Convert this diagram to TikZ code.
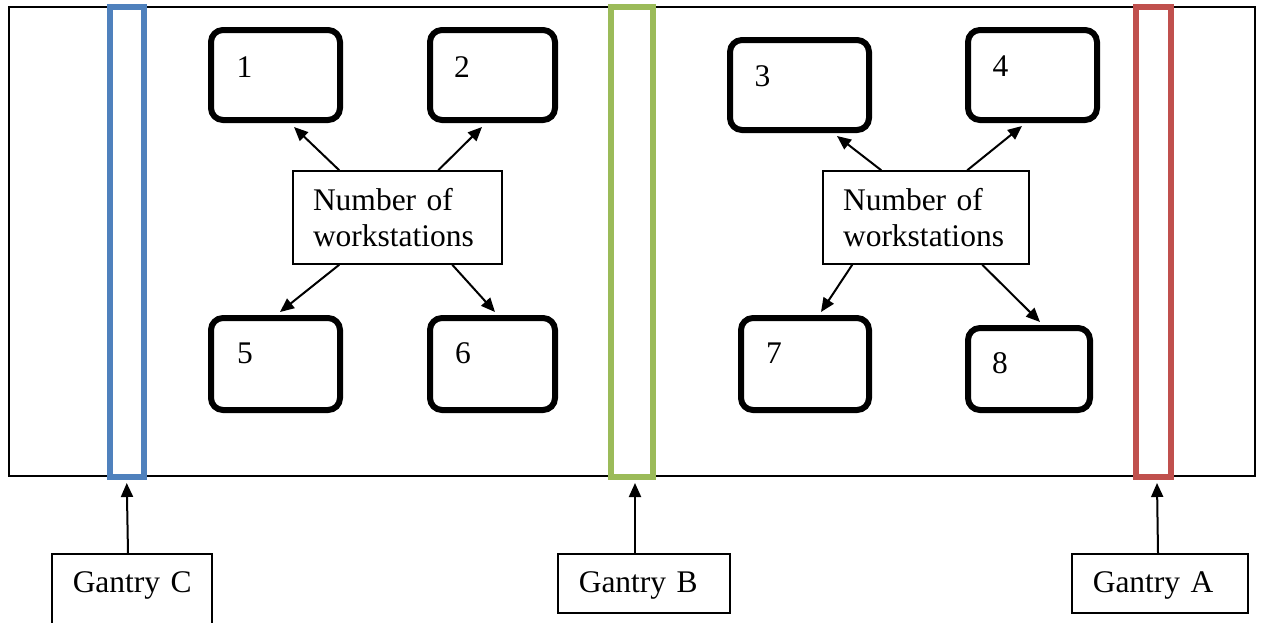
\documentclass[tikz,border=0pt]{standalone}
\usepackage{fontspec}
\setmainfont{Liberation Serif}
\usetikzlibrary{arrows.meta,calc}
\definecolor{gblue}{HTML}{4F81BD}
\definecolor{ggreen}{HTML}{9BBB59}
\definecolor{gred}{HTML}{C0504D}
\begin{document}
\begin{tikzpicture}[x=0.5pt,y=-0.5pt,
  every node/.style={font=\fontsize{15.75pt}{18pt}\selectfont},
  wsbox/.style={draw, line width=3pt, rounded corners=6pt, inner sep=0pt},
  numbox/.style={draw, line width=0.75pt, inner xsep=10pt, align=left, minimum height=46.5pt},
  gantry/.style={draw, line width=3pt, inner sep=0pt, minimum height=235pt},
  glabel/.style={draw, line width=0.75pt, anchor=north west, align=left, inner xsep=10.5pt, inner ysep=7.75pt, text height=11.75pt, text depth=2.25pt},
  digit/.style={anchor=base, inner sep=0pt},
  arr/.style={-{Triangle[length=7pt,width=6pt]}, line width=1pt}]
\useasboundingbox (0,0) rectangle (1264,622);
\clip (0,0) rectangle (1264,622);
% outer frame
\draw[line width=0.75pt] (9,7) rectangle (1255,476);
% gantries
\node[gantry, draw=gblue, minimum width=17.25pt] (gC) at (126.75,242) {};
\node[gantry, draw=ggreen, minimum width=21pt] (gB) at (632,242) {};
\node[gantry, draw=gred, minimum width=17.5pt] (gA) at (1153,242) {};
% workstation boxes
\node[wsbox, minimum width=64.5pt, minimum height=45pt] (b1) at (275.5,75) {};
\node[wsbox, minimum width=62.5pt, minimum height=45pt] (b2) at (492.5,75) {};
\node[wsbox, minimum width=64.5pt, minimum height=46pt] (b5) at (275.5,364) {};
\node[wsbox, minimum width=62.5pt, minimum height=46pt] (b6) at (492.5,364) {};
\node[wsbox, minimum width=69.5pt, minimum height=45pt] (b3) at (799.5,85) {};
\node[wsbox, minimum width=64.5pt, minimum height=45pt] (b4) at (1032.5,75) {};
\node[wsbox, minimum width=64pt, minimum height=46pt] (b7) at (805,364) {};
\node[wsbox, minimum width=61pt, minimum height=41pt] (b8) at (1029,369) {};
% digits
\node[digit] (d1) at (244.5,77) {1};
\node[digit] (d2) at (462,77) {2};
\node[digit] (d3) at (762.5,86) {3};
\node[digit] (d4) at (1000.5,76) {4};
\node[digit] (d5) at (245,363) {5};
\node[digit] (d6) at (463,363) {6};
\node[digit] (d7) at (774,363) {7};
\node[digit] (d8) at (1000,373) {8};
% number of workstations boxes
\node[numbox, text width=84.5pt] (nl) at (397.5,217.5) {Number of\\workstations};
\node[numbox, text width=83pt] (nr) at (926,217.5) {Number of\\workstations};
% arrows left group
\draw[arr] ($(nl.north west)+(47,0)$) -- ($(b1.south west)+(86,4)$);
\draw[arr] ($(nl.north west)+(146,0)$) -- ($(b2.south west)+(55,4)$);
\draw[arr] ($(nl.south west)+(47,0)$) -- ($(b5.north west)+(72,-3)$);
\draw[arr] ($(nl.south west)+(160,0)$) -- ($(b6.north west)+(68,-3)$);
% arrows right group
\draw[arr] ($(nr.north west)+(59,0)$) -- ($(b3.south west)+(110,3)$);
\draw[arr] ($(nr.north west)+(145,0)$) -- ($(b4.south west)+(57,3)$);
\draw[arr] ($(nr.south west)+(30,0)$) -- ($(b7.north west)+(83,-3)$);
\draw[arr] ($(nr.south west)+(160,0)$) -- ($(b8.north west)+(75,-3)$);
% gantry labels
\node[glabel, text width=59pt, text depth=17.75pt] (gcl) at (51,553) {\makebox[59pt][l]{Gantry C}};
\node[glabel, text width=65pt] (gbl) at (557,553) {\makebox[65pt][l]{Gantry B}};
\node[glabel, text width=67pt] (gal) at (1071,553) {\makebox[67pt][l]{Gantry A}};
% gantry arrows
\draw[arr] ($(gcl.north west)+(77,0)$) -- ($(gC.south)+(0,3)$);
\draw[arr] ($(gbl.north west)+(78,0)$) -- ($(gB.south)+(3,3)$);
\draw[arr] ($(gal.north west)+(87,0)$) -- ($(gA.south)+(4,3)$);
\end{tikzpicture}
\end{document}
